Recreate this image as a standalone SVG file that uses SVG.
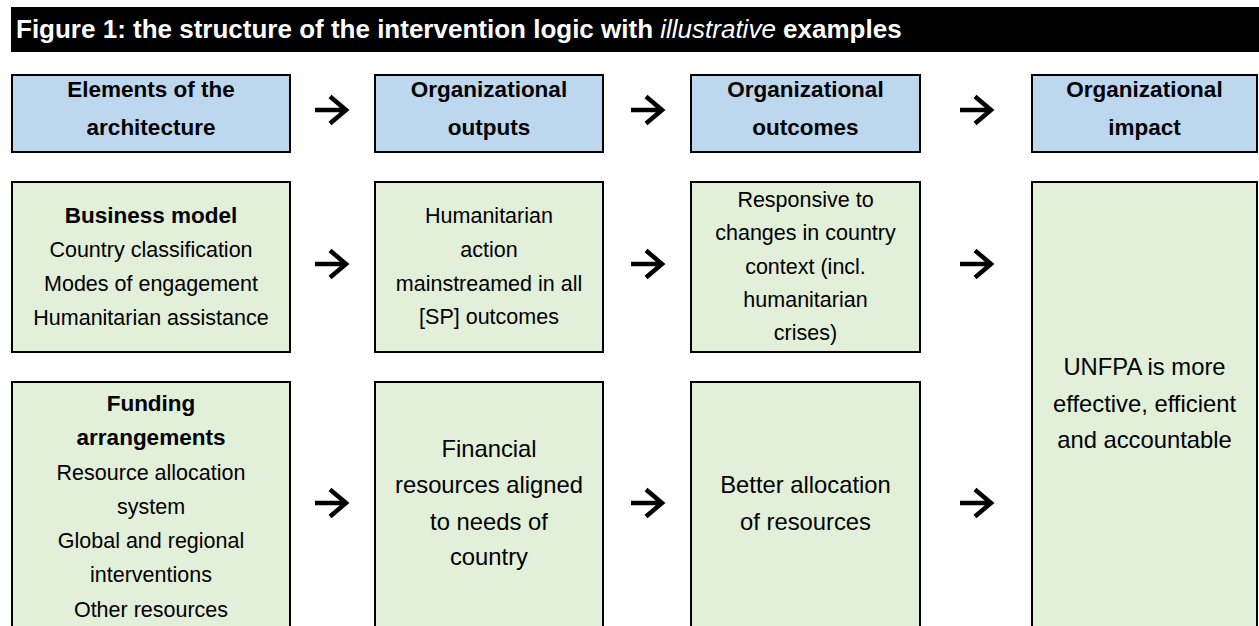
<svg xmlns="http://www.w3.org/2000/svg" width="1259" height="626" viewBox="0 0 1259 626">
<style>
.hdr{fill:#BDD7EE;stroke:#000;stroke-width:2}
.box{fill:#E2EFD9;stroke:#000;stroke-width:2}
text{font-family:"Liberation Sans",Arial,sans-serif;fill:#000;text-anchor:middle}
.b{font-weight:bold;font-size:22.5px}
.r{font-size:21.5px}
.l{font-size:23.8px}
.title{font-weight:bold;font-size:26px;fill:#fff;text-anchor:start}
.arr{fill:none;stroke:#000;stroke-width:4.5;stroke-linejoin:miter}
</style>
<defs>
<path id="arrow" d="M0 0 H31 M15 -13.5 L31 0 L15 13.5"/>
</defs>
<rect width="1259" height="626" fill="#fff"/>
<g id="title">
<rect x="11" y="7" width="1248" height="45" fill="#000"/>
<text class="title" x="16" y="38">Figure 1: the structure of the intervention logic with <tspan font-style="italic" font-weight="normal">illustrative</tspan> examples</text>
</g>
<g id="h-elements">
<rect class="hdr" x="12" y="75" width="278" height="77"/>
<text class="b" x="151" y="97">Elements of the</text>
<text class="b" x="151" y="135">architecture</text>
</g>
<g id="h-outputs">
<rect class="hdr" x="375" y="75" width="228" height="77"/>
<text class="b" x="489" y="97">Organizational</text>
<text class="b" x="489" y="135">outputs</text>
</g>
<g id="h-outcomes">
<rect class="hdr" x="691" y="75" width="229" height="77"/>
<text class="b" x="805.5" y="97">Organizational</text>
<text class="b" x="805.5" y="135">outcomes</text>
</g>
<g id="h-impact">
<rect class="hdr" x="1032" y="75" width="225" height="77"/>
<text class="b" x="1144.5" y="97">Organizational</text>
<text class="b" x="1144.5" y="135">impact</text>
</g>
<g id="business-model">
<rect class="box" x="12" y="182" width="278" height="170"/>
<text class="b" x="151" y="223">Business model</text>
<text class="r" x="151" y="257">Country classification</text>
<text class="r" x="151" y="291">Modes of engagement</text>
<text class="r" x="151" y="325">Humanitarian assistance</text>
</g>
<g id="humanitarian-action">
<rect class="box" x="375" y="182" width="228" height="170"/>
<text class="r" x="489" y="223">Humanitarian</text>
<text class="r" x="489" y="257">action</text>
<text class="r" x="489" y="291">mainstreamed in all</text>
<text class="r" x="489" y="324">[SP] outcomes</text>
</g>
<g id="responsive">
<rect class="box" x="691" y="182" width="229" height="170"/>
<text class="r" x="805.5" y="207">Responsive to</text>
<text class="r" x="805.5" y="240">changes in country</text>
<text class="r" x="805.5" y="274">context (incl.</text>
<text class="r" x="805.5" y="307">humanitarian</text>
<text class="r" x="805.5" y="340">crises)</text>
</g>
<g id="unfpa">
<rect class="box" x="1032" y="182" width="225" height="470"/>
<text class="l" x="1144.5" y="375">UNFPA is more</text>
<text class="l" x="1144.5" y="412">effective, efficient</text>
<text class="l" x="1144.5" y="448">and accountable</text>
</g>
<g id="funding">
<rect class="box" x="12" y="382" width="278" height="270"/>
<text class="b" x="151" y="411">Funding</text>
<text class="b" x="151" y="445">arrangements</text>
<text class="r" x="151" y="480">Resource allocation</text>
<text class="r" x="151" y="514">system</text>
<text class="r" x="151" y="548">Global and regional</text>
<text class="r" x="151" y="582">interventions</text>
<text class="r" x="151" y="617">Other resources</text>
</g>
<g id="financial">
<rect class="box" x="375" y="382" width="228" height="270"/>
<text class="l" x="489" y="457">Financial</text>
<text class="l" x="489" y="493">resources aligned</text>
<text class="l" x="489" y="530">to needs of</text>
<text class="l" x="489" y="565">country</text>
</g>
<g id="allocation">
<rect class="box" x="691" y="382" width="229" height="270"/>
<text class="l" x="805.5" y="493">Better allocation</text>
<text class="l" x="805.5" y="530">of resources</text>
</g>
<g id="connectors" class="arr">
<use href="#arrow" x="315" y="110"/>
<use href="#arrow" x="631" y="110"/>
<use href="#arrow" x="960" y="110"/>
<use href="#arrow" x="315" y="264"/>
<use href="#arrow" x="631" y="264"/>
<use href="#arrow" x="960" y="264"/>
<use href="#arrow" x="315" y="503"/>
<use href="#arrow" x="631" y="503"/>
<use href="#arrow" x="960" y="503"/>
</g>
</svg>
